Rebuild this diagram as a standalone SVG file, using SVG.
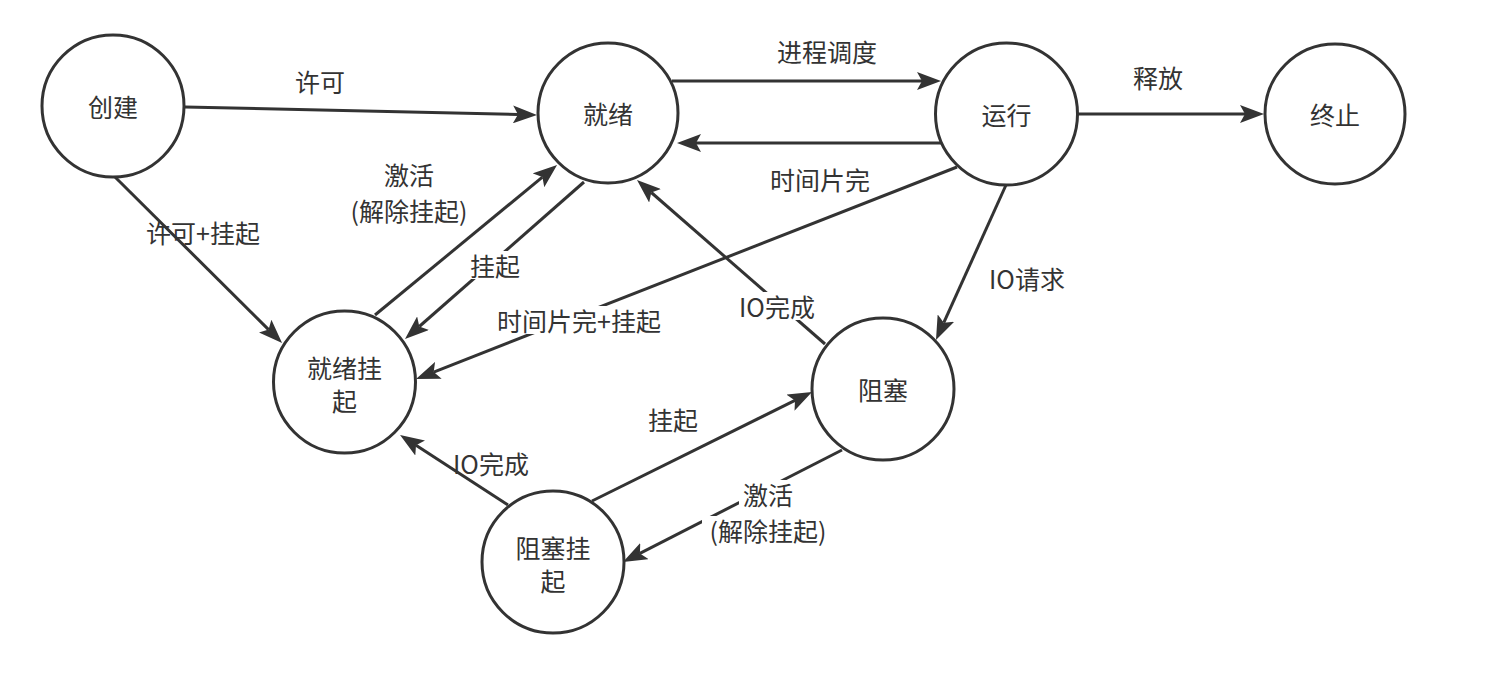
<svg xmlns="http://www.w3.org/2000/svg" width="1497" height="677" viewBox="0 0 1497 677">
<defs>
<style>
.node circle{fill:#fff;stroke:#333;stroke-width:3}
text{font-family:"Noto Sans CJK SC","Noto Sans",sans-serif;font-size:25px;fill:#333;text-anchor:middle;dominant-baseline:central}
.edge{stroke:#333;stroke-width:3;fill:none;marker-end:url(#arr)}
.bg{fill:#fff}
</style>
<marker id="arr" markerUnits="userSpaceOnUse" markerWidth="24" markerHeight="18" refX="5" refY="9" orient="auto">
<path d="M0,0 L24,9 L0,18 L5,9 z" fill="#333"/>
</marker>
</defs>
<rect width="1497" height="677" fill="#fff"/>
<g id="connectors">
<line class="edge" x1="185" y1="107" x2="518" y2="114.5"/>
<line class="edge" x1="672" y1="81" x2="922" y2="81"/>
<line class="edge" x1="942" y1="143" x2="696" y2="143"/>
<line class="edge" x1="1078" y1="114" x2="1245" y2="114"/>
<line class="edge" x1="115" y1="177" x2="268.6" y2="329.6"/>
<line class="edge" x1="375" y1="315" x2="542.4" y2="177.1"/>
<line class="edge" x1="584" y1="182" x2="419.3" y2="326.5"/>
<line class="edge" x1="957" y1="167" x2="433.7" y2="372.1"/>
<line class="edge" x1="1006" y1="185" x2="943.8" y2="322.7"/>
<line class="edge" x1="825" y1="344" x2="651.3" y2="192.5"/>
<line class="edge" x1="592" y1="501" x2="795" y2="400.4"/>
<line class="edge" x1="842" y1="450" x2="639.9" y2="553.4"/>
<line class="edge" x1="508" y1="505" x2="416" y2="445.3"/>
</g>
<g id="edge-labels">
<text x="320" y="81">许可</text>
<text x="827" y="51">进程调度</text>
<text x="820" y="179">时间片完</text>
<text x="1158" y="77">释放</text>
<text x="203" y="232">许可+挂起</text>
<text x="409" y="174"><tspan x="409" y="174">激活</tspan><tspan x="409" y="210">(解除挂起)</tspan></text>
<rect class="bg" x="466" y="251" width="58" height="28"/>
<text x="495" y="265">挂起</text>
<rect class="bg" x="487" y="306" width="184" height="28"/>
<text x="579" y="320">时间片完+挂起</text>
<rect class="bg" x="733" y="292" width="90" height="28"/>
<text x="777" y="306">IO完成</text>
<text x="1027" y="278">IO请求</text>
<text x="673" y="419">挂起</text>
<text x="491" y="463">IO完成</text>
<rect class="bg" x="739" y="480" width="58" height="28"/>
<rect class="bg" x="702" y="516" width="132" height="28"/>
<text x="768" y="494"><tspan x="768" y="494">激活</tspan><tspan x="768" y="530">(解除挂起)</tspan></text>
</g>
<g id="node-create" class="node"><circle cx="113" cy="106" r="71"/><text x="113" y="106">创建</text></g>
<g id="node-ready" class="node"><circle cx="608" cy="113" r="70"/><text x="608" y="113">就绪</text></g>
<g id="node-running" class="node"><circle cx="1006.5" cy="114" r="71"/><text x="1006.5" y="114">运行</text></g>
<g id="node-exit" class="node"><circle cx="1335" cy="114" r="70"/><text x="1335" y="114">终止</text></g>
<g id="node-ready-suspend" class="node"><circle cx="344.5" cy="382" r="71"/><text x="344.5" y="367"><tspan x="344.5" y="367">就绪挂</tspan><tspan x="344.5" y="400">起</tspan></text></g>
<g id="node-blocked" class="node"><circle cx="883" cy="389" r="71"/><text x="883" y="389">阻塞</text></g>
<g id="node-blocked-suspend" class="node"><circle cx="553" cy="562" r="71"/><text x="553" y="547"><tspan x="553" y="547">阻塞挂</tspan><tspan x="553" y="580">起</tspan></text></g>
</svg>
